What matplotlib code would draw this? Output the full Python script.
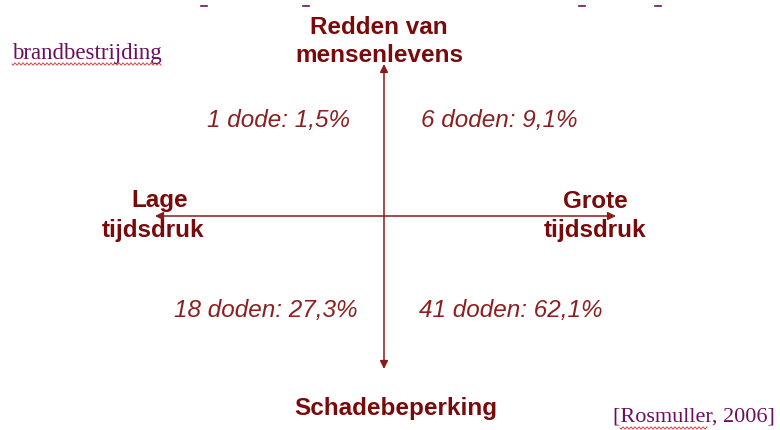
import matplotlib
matplotlib.use("Agg")
import matplotlib.pyplot as plt
import numpy as np

# Data
quadrant_counts = [1, 6, 18, 41]
quadrant_pcts = ["1,5", "9,1", "27,3", "62,1"]
quadrant_nouns = ["dode", "doden", "doden", "doden"]
axis_top = ["Redden van", "mensenlevens"]
axis_bottom = "Schadebeperking"
axis_left = ["Lage", "tijdsdruk"]
axis_right = ["Grote", "tijdsdruk"]
title_text = "brandbestrijding"
source_text = "[Rosmuller, 2006]"

DARK = "#7a0a0a"
LINE = "#8b1a1a"
ITAL = "#8b2020"
PURP = "#6a1060"

fig = plt.figure(figsize=(7.8, 4.3), dpi=100)
ax = fig.add_axes([0, 0, 1, 1])
ax.set_xlim(0, 780)
ax.set_ylim(430, 0)
ax.axis("off")

# arrows
ax.annotate("", xy=(384, 64), xytext=(384, 369),
            arrowprops=dict(arrowstyle="<|-|>", color=LINE, lw=1.1,
                            mutation_scale=12, shrinkA=0, shrinkB=0))
ax.annotate("", xy=(155, 216), xytext=(616, 216),
            arrowprops=dict(arrowstyle="<|-|>", color=LINE, lw=1.1,
                            mutation_scale=12, shrinkA=0, shrinkB=0))

# top dashes
for x in [204, 306, 582, 658]:
    ax.plot([x - 3, x + 3], [6, 6], color=PURP, lw=1.2)

bold = dict(family="Liberation Sans", fontweight="bold", color=DARK, fontsize=17.5)
ax.text(379, 27, axis_top[0], ha="center", va="center", **bold)
ax.text(379, 56, axis_top[1], ha="center", va="center", **bold)
ax.text(396, 408, axis_bottom, ha="center", va="center", **bold)
ax.text(160, 201, axis_left[0], ha="center", va="center", **bold)
ax.text(153, 231, axis_left[1], ha="center", va="center", **bold)
ax.text(595, 201, axis_right[0], ha="center", va="center", **bold)
ax.text(595, 231, axis_right[1], ha="center", va="center", **bold)

ital = dict(family="Liberation Sans", fontstyle="italic", color=ITAL, fontsize=17.5)
pos = [(279, 120), (499, 120), (266, 311), (511, 311)]
for (x, y), c, n, p in zip(pos, quadrant_counts, quadrant_nouns, quadrant_pcts):
    ax.text(x, y, f"{c} {n}: {p}%", ha="center", va="center", **ital)

serif = dict(family="Liberation Serif", color=PURP)
ax.text(12, 53, title_text, ha="left", va="center", fontsize=16.5, **serif)
ax.text(775, 417, source_text, ha="right", va="center", fontsize=16, **serif)

# wavy spell-check underlines
def wavy(x0, x1, y):
    xs = np.arange(x0, x1, 1.0)
    ys = y + 1.2 * np.sin(xs * np.pi / 2)
    ax.plot(xs, ys, color="#e04040", lw=0.7)

wavy(12, 162, 64)
wavy(620, 708, 428)

fig.savefig("out.png", dpi=100)
